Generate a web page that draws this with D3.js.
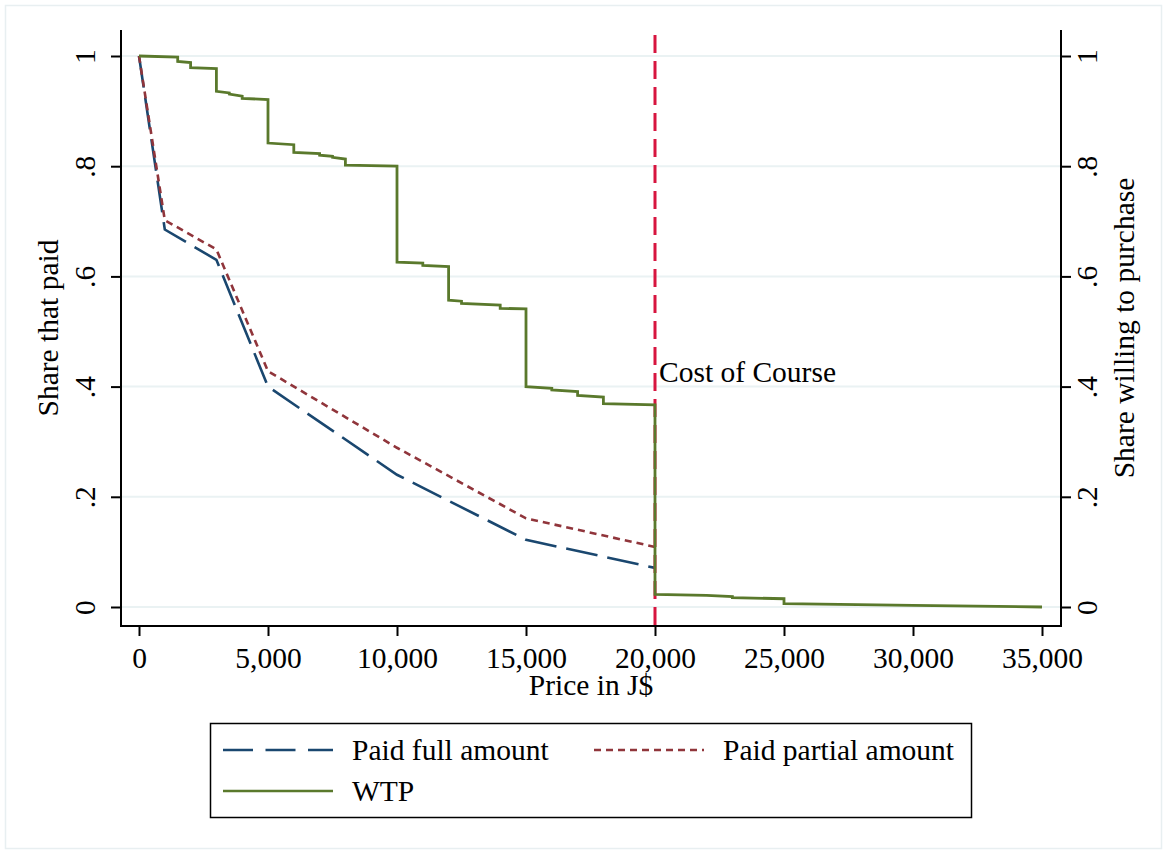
<!DOCTYPE html>
<html>
<head>
<meta charset="utf-8">
<script src="https://cdn.jsdelivr.net/npm/d3@7"></script>
<style>
  html, body { margin: 0; padding: 0; background: #fff; }
  svg text { font-family: "Liberation Serif", "Times New Roman", serif; fill: #000; }
</style>
</head>
<body>
<svg id="chart" width="1167" height="854"></svg>
<script>
// ---- data ----
const xTicks = [0, 5000, 10000, 15000, 20000, 25000, 30000, 35000];
const yTicks = [0, 0.2, 0.4, 0.6, 0.8, 1];
const yTickLabels = ["0", ".2", ".4", ".6", ".8", "1"];

const paidPrice   = [0, 1000, 3000, 5000, 10000, 15000, 20000];
const paidFull    = [1.000, 0.685, 0.630, 0.400, 0.240, 0.122, 0.071];
const paidPartial = [1.000, 0.702, 0.649, 0.428, 0.289, 0.161, 0.109];

const wtpPrice = [0, 1500, 1500, 2000, 2000, 3000, 3000, 3500, 3500, 4000, 4000, 5000, 5000,
  6000, 6000, 7000, 7000, 7500, 7500, 8000, 8000, 10000, 10000, 11000, 11000, 12000, 12000,
  12500, 12500, 14000, 14000, 15000, 15000, 16000, 16000, 17000, 17000, 18000, 18000,
  20000, 20000, 22000, 23000, 23000, 25000, 25000, 30000, 35000];
const wtpShare = [1.000, 0.998, 0.990, 0.988, 0.979, 0.977, 0.936, 0.933, 0.931, 0.927, 0.923, 0.921, 0.842,
  0.839, 0.825, 0.823, 0.820, 0.818, 0.816, 0.813, 0.802, 0.800, 0.626, 0.624, 0.620, 0.618, 0.557,
  0.555, 0.551, 0.548, 0.542, 0.541, 0.400, 0.397, 0.394, 0.391, 0.384, 0.381, 0.369,
  0.367, 0.023, 0.021, 0.019, 0.017, 0.015, 0.006, 0.003, 0.000];

const costOfCourse = 20000;
const legendLabels = ["Paid full amount", "Paid partial amount", "WTP"];

// ---- styles ----
const colFull = "#1a476f", colPartial = "#90353b", colWTP = "#5a792c", colCost = "#d7153f";
const fs = 29.5;

const svg = d3.select("#chart");

// outer frame
svg.append("rect").attr("x", 5.5).attr("y", 5.5).attr("width", 1156).attr("height", 843)
  .attr("fill", "#fff").attr("stroke", "#e8eff1").attr("stroke-width", 1.5);

const plotL = 121, plotR = 1061, plotT = 30, plotB = 626;
const x = d3.scaleLinear().domain([0, 35000]).range([139, 1042]);
const y = d3.scaleLinear().domain([0, 1]).range([607, 56]);

// gridlines
svg.append("g").selectAll("line").data(yTicks).join("line")
  .attr("x1", plotL).attr("x2", plotR)
  .attr("y1", d => y(d)).attr("y2", d => y(d))
  .attr("stroke", "#eaf2f3").attr("stroke-width", 2);

// axes
const fmtY = d => yTickLabels[yTicks.indexOf(d)];
const gL = svg.append("g").attr("transform", `translate(${plotL},0)`)
  .call(d3.axisLeft(y).tickValues(yTicks).tickFormat(fmtY).tickSize(10));
gL.select(".domain").remove();
gL.selectAll(".tick text").attr("x", 0).attr("y", -26).attr("dy", 0)
  .attr("transform", "rotate(-90)").attr("text-anchor", "middle");

const gR = svg.append("g").attr("transform", `translate(${plotR},0)`)
  .call(d3.axisRight(y).tickValues(yTicks).tickFormat(fmtY).tickSize(10));
gR.select(".domain").remove();
gR.selectAll(".tick text").attr("x", 0).attr("y", 36).attr("dy", 0)
  .attr("transform", "rotate(-90)").attr("text-anchor", "middle");

const gB = svg.append("g").attr("transform", `translate(0,${plotB})`)
  .call(d3.axisBottom(x).tickValues(xTicks).tickFormat(d3.format(",")).tickSize(10));
gB.select(".domain").remove();
gB.selectAll(".tick text").attr("y", 42).attr("dy", 0);

[gL, gR, gB].forEach(g => {
  g.selectAll(".tick line").attr("stroke", "#000").attr("stroke-width", 2);
  g.selectAll(".tick text").style("font-size", fs + "px")
    .style("font-family", '"Liberation Serif", "Times New Roman", serif');
});

// axis lines
svg.append("line").attr("x1", plotL).attr("x2", plotL).attr("y1", plotT).attr("y2", plotB + 1)
  .attr("stroke", "#000").attr("stroke-width", 2);
svg.append("line").attr("x1", plotR).attr("x2", plotR).attr("y1", plotT).attr("y2", plotB + 1)
  .attr("stroke", "#000").attr("stroke-width", 2);
svg.append("line").attr("x1", plotL - 1).attr("x2", plotR + 1).attr("y1", plotB).attr("y2", plotB)
  .attr("stroke", "#000").attr("stroke-width", 2);

// axis titles
svg.append("text").attr("transform", `translate(58,${(plotT + plotB) / 2}) rotate(-90)`)
  .attr("text-anchor", "middle").style("font-size", fs + "px").text("Share that paid");
svg.append("text").attr("transform", `translate(1134,${(plotT + plotB) / 2}) rotate(-90)`)
  .attr("text-anchor", "middle").style("font-size", fs + "px").text("Share willing to purchase");
svg.append("text").attr("x", (plotL + plotR) / 2).attr("y", 695)
  .attr("text-anchor", "middle").style("font-size", fs + "px").text("Price in J$");

// lines
const line = d3.line().x(d => x(d[0])).y(d => y(d[1]));
svg.append("path").datum(paidPrice.map((p, i) => [p, paidFull[i]]))
  .attr("d", line).attr("fill", "none").attr("stroke", colFull).attr("stroke-width", 2.6)
  .attr("stroke-dasharray", "32,10");
svg.append("path").datum(paidPrice.map((p, i) => [p, paidPartial[i]]))
  .attr("d", line).attr("fill", "none").attr("stroke", colPartial).attr("stroke-width", 2.6)
  .attr("stroke-dasharray", "7,5");

// cost of course
svg.append("line").attr("x1", x(costOfCourse)).attr("x2", x(costOfCourse))
  .attr("y1", 35).attr("y2", plotB)
  .attr("stroke", colCost).attr("stroke-width", 3).attr("stroke-dasharray", "18,8");
svg.append("text").attr("x", x(costOfCourse) + 4).attr("y", 382)
  .style("font-size", fs + "px").text("Cost of Course");

svg.append("path").datum(wtpPrice.map((p, i) => [p, wtpShare[i]]))
  .attr("d", line).attr("fill", "none").attr("stroke", colWTP).attr("stroke-width", 2.8)
  .attr("stroke-linejoin", "miter");

// legend
const lg = svg.append("g");
lg.append("rect").attr("x", 210.5).attr("y", 723.5).attr("width", 761).attr("height", 94)
  .attr("fill", "#fff").attr("stroke", "#000").attr("stroke-width", 1.5);
const legendItems = [
  { lx: 223, ly: 750, tx: 352, color: colFull, dash: "30,12.5" },
  { lx: 594, ly: 750, tx: 723, color: colPartial, dash: "7,5" },
  { lx: 223, ly: 791, tx: 352, color: colWTP, dash: null }
];
legendItems.forEach((it, i) => {
  lg.append("line").attr("x1", it.lx).attr("x2", it.lx + 110).attr("y1", it.ly).attr("y2", it.ly)
    .attr("stroke", it.color).attr("stroke-width", 2.6)
    .attr("stroke-dasharray", it.dash);
  lg.append("text").attr("x", it.tx).attr("y", it.ly + 10).style("font-size", fs + "px")
    .text(legendLabels[i]);
});
</script>
</body>
</html>
